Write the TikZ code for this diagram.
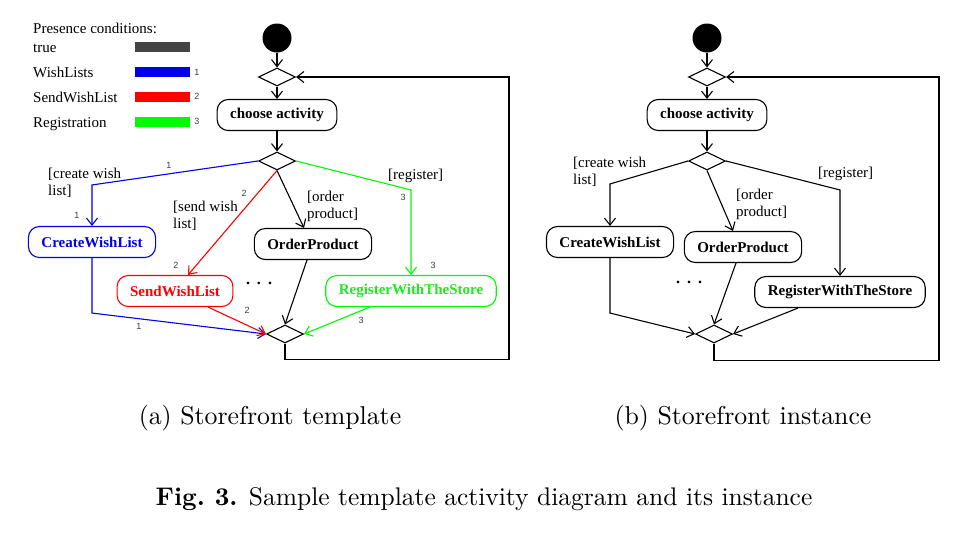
\documentclass[tikz,border=0pt]{standalone}
\usepackage{fontspec}
\newfontfamily\diafont{Liberation Serif}
\newfontfamily\numfont{Liberation Sans}
\newfontfamily\capfont{lmroman10-regular}[Extension=.otf, BoldFont=lmroman10-bold]
\usetikzlibrary{shapes.geometric, arrows.meta}
\definecolor{wishblue}{RGB}{0,0,235}
\definecolor{sendred}{RGB}{255,0,0}
\definecolor{reggreen}{RGB}{0,250,0}
\definecolor{regtext}{RGB}{30,235,30}
\definecolor{truegray}{RGB}{68,68,68}
\definecolor{pcgray}{RGB}{60,60,60}
\begin{document}
\begin{tikzpicture}[x=1pt,y=-1pt]

	\tikzstyle{action} = [rectangle, rounded corners=11pt, draw=black, line width=1.1pt, minimum height=31pt, inner xsep=13pt, font=\diafont\bfseries\fontsize{15}{17}\selectfont]
	\tikzstyle{branch} = [diamond, draw=black, line width=1.1pt, minimum width=37pt, minimum height=18pt, inner sep=0pt]
	\tikzstyle{startdot} = [circle, fill=black, minimum size=29pt, inner sep=0pt]
	\tikzstyle{guard} = [anchor=north west, align=left, inner sep=0pt, font=\diafont\fontsize{15}{17}\selectfont]
	\tikzstyle{legendtext} = [anchor=base west, inner sep=0pt, font=\diafont\fontsize{15}{17}\selectfont]
	\tikzstyle{pc} = [inner sep=0pt, text=pcgray, font=\numfont\fontsize{9}{10}\selectfont]
	\tikzstyle{caption} = [inner sep=0pt, font=\capfont\fontsize{25.8}{30}\selectfont]
	\tikzstyle{arrow} = [line width=1.1pt, -{Straight Barb[length=7pt,width=11pt]}]

	\useasboundingbox (0,0) rectangle (966,542);

	% Legend
	\node (pctitle) [legendtext] at (33,33) {Presence conditions:};
	\node (pctrue) [legendtext] at (33,52) {true};
	\node (pcwish) [legendtext] at (33,77) {WishLists};
	\node (pcsend) [legendtext] at (33,102) {SendWishList};
	\node (pcreg) [legendtext] at (33,127) {Registration};
	\fill[truegray] (135,42) rectangle (190,52);
	\fill[wishblue] (135,67) rectangle (190,77);
	\fill[sendred] (135,92) rectangle (190,102);
	\fill[reggreen] (135,117) rectangle (190,127);
	\node (pcwishn) [pc] at (197,72) {1};
	\node (pcsendn) [pc] at (197,96) {2};
	\node (pcregn) [pc] at (197,121) {3};

	% Nodes (a)
	\node (start1) [startdot] at (277,38) {};
	\node (merge1) [branch] at (277,77) {};
	\node (choose1) [action] at (277,115) {choose activity};
	\node (choice1) [branch] at (277,161) {};
	\node (cwl1) [action, draw=wishblue, text=wishblue] at (92,242) {CreateWishList};
	\node (swl1) [action, draw=sendred, text=sendred] at (175,291) {SendWishList};
	\node (op1) [action] at (313,244) {OrderProduct};
	\node (rws1) [action, draw=reggreen, text=regtext] at (411,291) {RegisterWithTheStore};
	\node (join1) [branch] at (285,334) {};
	\node (dots1) [inner sep=0pt, font=\diafont\bfseries\fontsize{16}{17}\selectfont] at (259,283) {.\hspace{7pt}.\hspace{7pt}.};

	\node (gcwl1) [guard] at (48,168) {[create wish\\list]};
	\node (gswl1) [guard] at (173,201) {[send wish\\list]};
	\node (gop1) [guard] at (307,191) {[order\\product]};
	\node (grws1) [guard] at (388,169) {[register]};

	\node (pc1a) [pc] at (169,165) {1};
	\node (pc1b) [pc] at (77,215) {1};
	\node (pc1c) [pc] at (139,326) {1};
	\node (pc2a) [pc] at (244,193) {2};
	\node (pc2b) [pc] at (176,265) {2};
	\node (pc2c) [pc] at (247,310) {2};
	\node (pc3a) [pc] at (403,197) {3};
	\node (pc3b) [pc] at (433,265) {3};
	\node (pc3c) [pc] at (361,320) {3};

	% Arrows (a)
	\draw [arrow] (start1) -- (merge1);
	\draw [arrow] (merge1) -- (choose1);
	\draw [arrow] (choose1) -- (choice1);
	\draw [arrow, wishblue] (choice1.west) -- ([yshift=41pt]cwl1.north) -- (cwl1.north);
	\draw [arrow, sendred] (choice1.south) -- ([xshift=13pt]swl1.north);
	\draw [arrow] (choice1.south) -- ([xshift=-9pt]op1.north);
	\draw [arrow, reggreen] (choice1.east) -- ([yshift=85pt]rws1.north) -- (rws1.north);
	\draw [arrow, wishblue] (cwl1.south) -- ([yshift=-55pt]cwl1.south) -- (join1.west);
	\draw [arrow, sendred] ([xshift=33pt]swl1.south) -- (join1.west);
	\draw [arrow] ([xshift=-6pt]op1.south) -- (join1.north);
	\draw [arrow, reggreen] ([xshift=-41pt]rws1.south) -- (join1.east);
	\draw [arrow] (join1.south) -- ++(0,16) -- ++(224,0) |- (merge1.east);

	% Nodes (b)
	\node (start2) [startdot] at (707,38) {};
	\node (merge2) [branch] at (707,77) {};
	\node (choose2) [action] at (707,115) {choose activity};
	\node (choice2) [branch] at (707,161) {};
	\node (cwl2) [action] at (610,242) {CreateWishList};
	\node (op2) [action] at (743,247) {OrderProduct};
	\node (rws2) [action] at (840,292) {RegisterWithTheStore};
	\node (join2) [branch] at (714,334) {};
	\node (dots2) [inner sep=0pt, font=\diafont\bfseries\fontsize{16}{17}\selectfont] at (689,282) {.\hspace{7pt}.\hspace{7pt}.};

	\node (gcwl2) [guard] at (573,157) {[create wish\\list]};
	\node (gop2) [guard] at (736,189) {[order\\product]};
	\node (grws2) [guard] at (818,167) {[register]};

	% Arrows (b)
	\draw [arrow] (start2) -- (merge2);
	\draw [arrow] (merge2) -- (choose2);
	\draw [arrow] (choose2) -- (choice2);
	\draw [arrow] (choice2.west) -- ([yshift=42pt]cwl2.north) -- (cwl2.north);
	\draw [arrow] (choice2.south) -- ([xshift=-10pt]op2.north);
	\draw [arrow] (choice2.east) -- ([yshift=86pt]rws2.north) -- (rws2.north);
	\draw [arrow] (cwl2.south) -- ([yshift=-55pt]cwl2.south) -- (join2.west);
	\draw [arrow] ([xshift=-7pt]op2.south) -- (join2.north);
	\draw [arrow] ([xshift=-42pt]rws2.south) -- (join2.east);
	\draw [arrow] (join2.south) -- ++(0,17) -- ++(225,0) |- (merge2.east);

	% Captions
	\node (capa) [caption] at (270,418) {(a) Storefront template};
	\node (capb) [caption] at (743,418) {(b) Storefront instance};
	\node (capfig) [caption, font=\capfont\fontsize{25.5}{30}\selectfont] at (484,499) {\textbf{Fig.\ 3.} Sample template activity diagram and its instance};

\end{tikzpicture}
\end{document}
